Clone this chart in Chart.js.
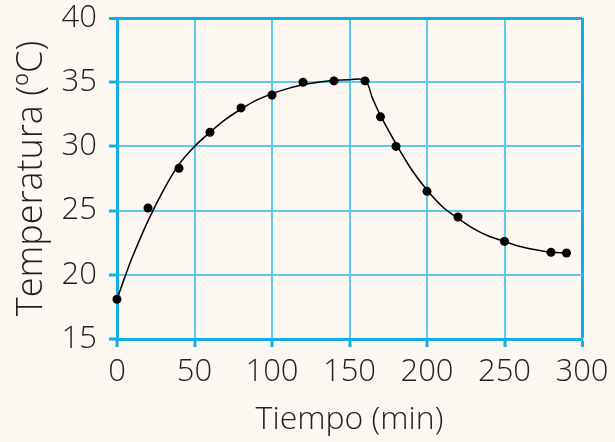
<!DOCTYPE html>
<html>
<head>
<meta charset="utf-8">
<script src="https://cdn.jsdelivr.net/npm/chart.js@4"></script>
<style>
  html, body { margin: 0; padding: 0; background: #fdf9f2; }
  #wrap { width: 615px; height: 442px; position: relative; }
</style>
</head>
<body>
<div id="wrap"><canvas id="chart"></canvas></div>
<script>
// measured points (min, ºC)
const sampleTimes = [0, 20, 40, 60, 80, 100, 120, 140, 160, 170, 180, 200, 220, 250, 280, 290]
const sampleTemps = [18.1, 25.2, 28.3, 31.1, 33.0, 34.0, 35.0, 35.1, 35.1, 32.3, 30.0, 26.5, 24.5, 22.6, 21.75, 21.7]

// fitted curve
const curveTimes = [0, 5, 10, 20, 30, 40, 50, 60, 70, 80, 90, 100, 110, 120, 130, 140, 150, 160,
  165, 170, 180, 190, 200, 210, 220, 230, 240, 250, 260, 270, 280, 290]
const curveTemps = [18.1, 19.8, 21.4, 24.2, 26.6, 28.6, 30.0, 31.1, 32.1, 32.9, 33.6, 34.1, 34.5, 34.8, 35.0, 35.15, 35.2, 35.15,
  33.7, 32.4, 30.2, 28.2, 26.6, 25.3, 24.4, 23.6, 23.0, 22.6, 22.2, 21.95, 21.75, 21.7]

const xTicks = [0, 50, 100, 150, 200, 250, 300]
const yTicks = [15, 20, 25, 30, 35, 40]

const BLUE = '#12aee8'
const BLUE_LIGHT = '#5ccaf2'
const INK = '#231f20'
const FAMILY = "'Open Sans', sans-serif"
const TICK_FONT = { family: FAMILY, size: 31, weight: 300, lineHeight: 1 }

const edgeWidth = (ends) => (c) => (ends.includes(c.tick && c.tick.value) ? 3 : 2)
const edgeColor = (ends) => (c) => (ends.includes(c.tick && c.tick.value) ? BLUE : BLUE_LIGHT)

new Chart(document.getElementById('chart'), {
  type: 'line',
  data: {
    datasets: [
      {
        data: curveTimes.map((t, i) => ({ x: t, y: curveTemps[i] })),
        borderColor: '#000',
        borderWidth: 1.5,
        pointRadius: 0,
        tension: 0.35,
        fill: false,
        clip: false,
      },
      {
        data: sampleTimes.map((t, i) => ({ x: t, y: sampleTemps[i] })),
        showLine: false,
        pointRadius: 4.5,
        pointBackgroundColor: '#000',
        pointBorderColor: '#000',
        pointBorderWidth: 0,
        clip: false,
      },
    ],
  },
  options: {
    responsive: true,
    maintainAspectRatio: false,
    animation: false,
    layout: { padding: { left: 0, right: 33, top: 18, bottom: 0 } },
    plugins: { legend: { display: false }, tooltip: { enabled: false } },
    scales: {
      x: {
        type: 'linear',
        min: 0,
        max: 300,
        afterBuildTicks: (s) => { s.ticks = xTicks.map(v => ({ value: v })) },
        afterFit: (s) => { s.height = 103; s.paddingLeft = 0; s.paddingRight = 0 },
        ticks: { color: INK, font: TICK_FONT, padding: 10, maxRotation: 0 },
        grid: { color: edgeColor([300]), lineWidth: edgeWidth([300]), tickColor: BLUE, tickLength: 8, tickWidth: 3 },
        border: { display: true, color: BLUE, width: 3 },
        title: { display: true, text: 'Tiempo (min)', color: INK, font: { family: FAMILY, size: 32, weight: 300 }, padding: { top: 2, bottom: 3 } },
      },
      y: {
        type: 'linear',
        min: 15,
        max: 40,
        afterBuildTicks: (s) => { s.ticks = yTicks.map(v => ({ value: v })) },
        afterFit: (s) => { s.width = 117; s.paddingTop = 0; s.paddingBottom = 0 },
        ticks: { color: INK, font: TICK_FONT, padding: 12 },
        grid: { color: edgeColor([40]), lineWidth: edgeWidth([40]), tickColor: BLUE, tickLength: 8, tickWidth: 3 },
        border: { display: true, color: BLUE, width: 3 },
        title: { display: true, text: 'Temperatura (ºC)', color: INK, font: { family: FAMILY, size: 36, weight: 300 }, padding: { top: 10, bottom: 0 } },
      },
    },
  },
})
</script>
</body>
</html>
